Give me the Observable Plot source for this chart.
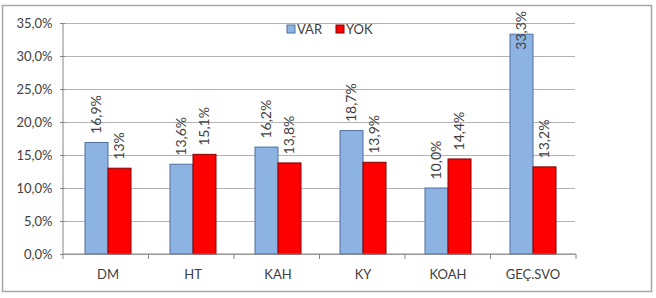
<!DOCTYPE html>
<html><head><meta charset="utf-8">
<script src="https://cdn.jsdelivr.net/npm/d3@7"></script>
<script src="https://cdn.jsdelivr.net/npm/@observablehq/plot@0.6"></script>
<style>
html,body{margin:0;padding:0;background:#fff;}
#chart{width:656px;height:298px;}
</style>
</head><body><div id="chart"></div>
<script>
const categories = ["DM", "HT", "KAH", "KY", "KOAH", "GEÇ.SVO"];
const series = ["VAR", "YOK"];
const varValues = [16.9, 13.6, 16.2, 18.7, 10.0, 33.3];
const yokValues = [13.0, 15.1, 13.8, 13.9, 14.4, 13.2];
const varLabels = ["16,9%", "13,6%", "16,2%", "18,7%", "10,0%", "33,3%"];
const yokLabels = ["13%", "15,1%", "13,8%", "13,9%", "14,4%", "13,2%"];
const yTicks = [0, 5, 10, 15, 20, 25, 30, 35];
const colors = {VAR: "#8DB3E2", YOK: "#FF0000"};
const strokes = {VAR: "#4F6FA0", YOK: "#800000"};

const rows = [];
categories.forEach((c, i) => {
  rows.push({cat: c, s: "VAR", v: varValues[i], label: varLabels[i]});
  rows.push({cat: c, s: "YOK", v: yokValues[i], label: yokLabels[i]});
});
const yMax = 35;
const fits = d => d.v < 30;

const font = "Lato, 'Open Sans', sans-serif";
const plot = Plot.plot({
  width: 656, height: 298,
  marginLeft: 63, marginRight: 80, marginTop: 23, marginBottom: 44,
  style: {fontFamily: font, background: "#fff"},
  fx: {domain: categories, padding: 0, axis: null},
  x: {domain: series, paddingInner: 0, paddingOuter: 0.78, axis: null},
  y: {domain: [0, yMax], axis: null},
  marks: [
    Plot.ruleY(yTicks, {y: d => d, stroke: "#b3b3b3", strokeWidth: 1}),
    Plot.barY(rows, {fx: "cat", x: "s", y: "v", fill: d => colors[d.s], stroke: d => strokes[d.s], strokeWidth: 1, inset: 0}),
    Plot.text(rows.filter(fits), {fx: "cat", x: "s", y: "v", text: "label", rotate: -90, textAnchor: "start", dy: -9, fontSize: 14, fill: "#404040"}),
    Plot.text(rows.filter(d => !fits(d)), {fx: "cat", x: "s", y: "v", text: "label", rotate: -90, textAnchor: "start", dy: 15, fontSize: 14, fill: "#404040"}),
    Plot.axisY({ticks: yTicks, tickFormat: d => d.toFixed(1).replace(".", ",") + "%", tickSize: 5, tickPadding: 8, stroke: "#868686", fill: "#404040", fontSize: 13, label: null}),
    Plot.axisFx({anchor: "bottom", tickSize: 0, tickPadding: 15, fontSize: 13, fill: "#404040", label: null})
  ]
});
document.getElementById("chart").appendChild(plot);

// decorations using the plot's own scales
const svg = d3.select(plot);
const ys = plot.scale("y");
const fxs = plot.scale("fx");
const y0 = ys.range[0], y1 = ys.range[1];
const fx0 = fxs.range[0], fx1 = fxs.range[1];
const step = (fx1 - fx0) / categories.length;
const g = svg.append("g").attr("text-anchor", "start");
g.append("line").attr("x1", fx0).attr("x2", fx0).attr("y1", y1).attr("y2", y0).attr("stroke", "#868686");
g.append("line").attr("x1", fx0).attr("x2", fx1).attr("y1", y0).attr("y2", y0).attr("stroke", "#868686");
d3.range(categories.length + 1).forEach(k => {
  const x = fx0 + k * step;
  g.append("line").attr("x1", x).attr("x2", x).attr("y1", y0).attr("y2", y0 + 5).attr("stroke", "#868686");
});
// outer border
g.append("rect").attr("x", 2.5).attr("y", 5.5).attr("width", 649).attr("height", 286).attr("fill", "none").attr("stroke", "#a6a6a6").attr("stroke-width", 1.5);
// legend
const legendX = [287, 336];
series.forEach((s, i) => {
  g.append("rect").attr("x", legendX[i]).attr("y", 25).attr("width", 8).attr("height", 8).attr("fill", colors[s]).attr("stroke", strokes[s]);
  g.append("text").attr("x", legendX[i] + 10).attr("y", 29).attr("dy", "0.35em").attr("font-size", 13).attr("fill", "#404040").attr("font-family", font).attr("text-anchor", "start").text(s);
});
</script>
</body></html>
